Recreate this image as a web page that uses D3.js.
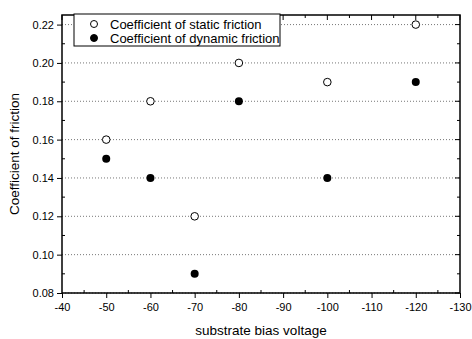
<!DOCTYPE html>
<html>
<head>
<meta charset="utf-8">
<script src="https://cdn.jsdelivr.net/npm/d3@7"></script>
<style>
  body { margin: 0; background: #fff; }
  text { font-family: "Liberation Sans", Arial, sans-serif; fill: #000; }
</style>
</head>
<body>
<div id="chart"></div>
<script>
// data
const voltages = [-50, -60, -70, -80, -100, -120];
const staticFriction = [0.16, 0.18, 0.12, 0.20, 0.19, 0.22];
const dynamicFriction = [0.15, 0.14, 0.09, 0.18, 0.14, 0.19];
const xTicks = [-40, -50, -60, -70, -80, -90, -100, -110, -120, -130];
const yTicks = [0.08, 0.10, 0.12, 0.14, 0.16, 0.18, 0.20, 0.22];
const seriesNames = ['Coefficient of static friction', 'Coefficient of dynamic friction'];

let width = 472, height = 339;
let plotL = 62, plotR = 460, plotT = 15, plotB = 293;

let svg = d3.select('#chart').append('svg')
  .attr('width', width)
  .attr('height', height);

let x = d3.scaleLinear().domain([-40, -130]).range([plotL, plotR]);
let y = d3.scaleLinear().domain([0.08, 0.225]).range([plotB, plotT]);

// dotted grid
svg.append('g').selectAll('line')
  .data(yTicks)
  .enter().append('line')
  .attr('x1', plotL).attr('x2', plotR)
  .attr('y1', d => y(d)).attr('y2', d => y(d))
  .attr('stroke', '#777')
  .attr('stroke-width', 1)
  .attr('stroke-dasharray', '1,2');

// frame
svg.append('rect')
  .attr('x', plotL).attr('y', plotT)
  .attr('width', plotR - plotL).attr('height', plotB - plotT)
  .attr('fill', 'none').attr('stroke', '#000').attr('stroke-width', 1.5);

let xMinor = d3.range(-45, -130, -10);
let yMinor = d3.range(0.09, 0.225, 0.02);

// bottom axis: major out, minor in
let xAxis = svg.append('g').attr('transform', `translate(0,${plotB})`)
  .call(d3.axisBottom(x).tickValues(xTicks).tickFormat(d => String(d)).tickSize(5).tickSizeOuter(0));
xAxis.select('.domain').remove();
xAxis.selectAll('text').attr('font-size', 11).attr('dy', '0.9em');
svg.append('g').selectAll('line').data(xMinor).enter().append('line')
  .attr('x1', d => x(d)).attr('x2', d => x(d))
  .attr('y1', plotB).attr('y2', plotB - 3).attr('stroke', '#000');

// left axis
let yAxis = svg.append('g').attr('transform', `translate(${plotL},0)`)
  .call(d3.axisLeft(y).tickValues(yTicks).tickFormat(d3.format('.2f')).tickSize(5).tickSizeOuter(0));
yAxis.select('.domain').remove();
yAxis.selectAll('text').attr('font-size', 11);
svg.append('g').selectAll('line').data(yMinor).enter().append('line')
  .attr('x1', plotL).attr('x2', plotL + 3)
  .attr('y1', d => y(d)).attr('y2', d => y(d)).attr('stroke', '#000');

// top and right ticks, inward
svg.append('g').selectAll('line').data(xTicks.concat(xMinor)).enter().append('line')
  .attr('x1', d => x(d)).attr('x2', d => x(d))
  .attr('y1', plotT).attr('y2', d => plotT + (xTicks.includes(d) ? 5 : 3)).attr('stroke', '#000');
svg.append('g').selectAll('line').data(yTicks.concat(yMinor)).enter().append('line')
  .attr('x1', plotR).attr('x2', d => plotR - (yTicks.includes(d) ? 5 : 3))
  .attr('y1', d => y(d)).attr('y2', d => y(d)).attr('stroke', '#000');

svg.selectAll('.tick line').attr('stroke', '#000');

// points
svg.append('g').selectAll('circle')
  .data(voltages.map((v, i) => [v, staticFriction[i]]))
  .enter().append('circle')
  .attr('cx', d => x(d[0])).attr('cy', d => y(d[1])).attr('r', 3.8)
  .attr('fill', '#fff').attr('stroke', '#000').attr('stroke-width', 1);
svg.append('g').selectAll('circle')
  .data(voltages.map((v, i) => [v, dynamicFriction[i]]))
  .enter().append('circle')
  .attr('cx', d => x(d[0])).attr('cy', d => y(d[1])).attr('r', 4)
  .attr('fill', '#000');

// legend
let lg = svg.append('g');
lg.append('rect').attr('x', 74).attr('y', 14).attr('width', 206).attr('height', 32)
  .attr('fill', '#fff').attr('stroke', '#000').attr('stroke-width', 1);
seriesNames.forEach((name, i) => {
  let cy = 24 + i * 14;
  lg.append('circle').attr('cx', 94).attr('cy', cy).attr('r', 3.5)
    .attr('fill', i ? '#000' : '#fff').attr('stroke', '#000');
  lg.append('text').attr('x', 110).attr('y', cy + 4.5).attr('font-size', 13).text(name);
});

// axis titles
svg.append('text').attr('x', 261).attr('y', 335).attr('text-anchor', 'middle')
  .attr('font-size', 13.5).text('substrate bias voltage');
svg.append('text').attr('transform', `translate(19,${(plotT + plotB) / 2}) rotate(-90)`)
  .attr('text-anchor', 'middle').attr('font-size', 13.5).text('Coefficient of friction');
</script>
</body>
</html>
